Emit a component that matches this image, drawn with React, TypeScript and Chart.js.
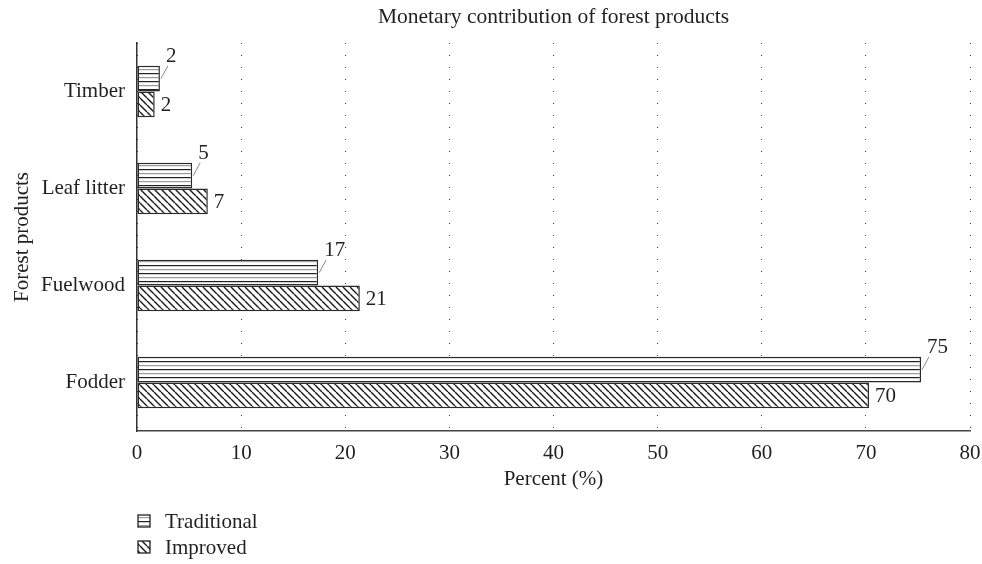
import React, { useEffect, useRef } from "react";
import { Chart, registerables } from "chart.js";

Chart.register(...registerables);

const categories = ["Timber", "Leaf litter", "Fuelwood", "Fodder"];
const traditionalValues = [2.2, 5.3, 17.4, 75.3];
const improvedValues = [1.7, 6.8, 21.4, 70.3];
const traditionalLabels = ["2", "5", "17", "75"];
const improvedLabels = ["2", "7", "21", "70"];
const seriesNames = ["Traditional", "Improved"];
const xTicksMax = 80;
const titleText = "Monetary contribution of forest products";
const xTitle = "Percent (%)";
const yTitle = "Forest products";

const FONT = "'Liberation Serif', 'Times New Roman', serif";
const TEXT = "#231f20";
const FS = 21;

function makeHorizontalPattern(ctx: CanvasRenderingContext2D) {
  const c = document.createElement("canvas");
  c.width = 8;
  c.height = 8;
  const g = c.getContext("2d")!;
  g.fillStyle = "#ffffff";
  g.fillRect(0, 0, 8, 8);
  g.fillStyle = "#222";
  g.fillRect(0, 1, 8, 1.2);
  g.fillStyle = "#9a9a9a";
  g.fillRect(0, 5, 8, 1.2);
  return ctx.createPattern(c, "repeat")!;
}

function makeDiagonalPattern(ctx: CanvasRenderingContext2D) {
  const s = 7;
  const c = document.createElement("canvas");
  c.width = s;
  c.height = s;
  const g = c.getContext("2d")!;
  g.fillStyle = "#ffffff";
  g.fillRect(0, 0, s, s);
  g.strokeStyle = "#1a1a1a";
  g.lineWidth = 1.4;
  g.beginPath();
  for (const x0 of [-s, 0, s]) {
    g.moveTo(x0, 0);
    g.lineTo(x0 + s, s);
  }
  g.stroke();
  return ctx.createPattern(c, "repeat")!;
}

export default function App() {
  const ref = useRef<HTMLCanvasElement>(null);

  useEffect(() => {
    document.body.style.margin = "0";
    const canvas = ref.current!;
    const ctx = canvas.getContext("2d")!;
    const hPat = makeHorizontalPattern(ctx);
    const dPat = makeDiagonalPattern(ctx);
    const patterns = [hPat, dPat];

    const overlay = {
      id: "overlay",
      afterDatasetsDraw(chart: any) {
        const c = chart.ctx as CanvasRenderingContext2D;
        c.save();
        c.font = `${FS}px ${FONT}`;
        c.fillStyle = TEXT;
        const m0 = chart.getDatasetMeta(0);
        m0.data.forEach((el: any, i: number) => {
          const top = el.y - el.height / 2;
          c.strokeStyle = "#8a8a8a";
          c.lineWidth = 1;
          c.beginPath();
          c.moveTo(el.x + 1, el.y);
          c.lineTo(el.x + 8, top);
          c.stroke();
          c.textAlign = "left";
          c.textBaseline = "alphabetic";
          c.fillText(traditionalLabels[i], el.x + 6, top - 4);
        });
        const m1 = chart.getDatasetMeta(1);
        m1.data.forEach((el: any, i: number) => {
          c.textAlign = "left";
          c.textBaseline = "middle";
          c.fillText(improvedLabels[i], el.x + 6, el.y + 1);
        });
        c.restore();
      },
      afterDraw(chart: any) {
        const c = chart.ctx as CanvasRenderingContext2D;
        const area = chart.chartArea;
        const cx = (area.left + area.right) / 2;
        c.save();
        c.fillStyle = TEXT;
        c.font = `21.5px ${FONT}`;
        c.textAlign = "center";
        c.textBaseline = "alphabetic";
        c.fillText(titleText, cx, 23);
        c.font = `${FS}px ${FONT}`;
        c.fillText(xTitle, cx, 485);
        c.save();
        c.translate(22, (area.top + area.bottom) / 2);
        c.rotate(-Math.PI / 2);
        c.textBaseline = "middle";
        c.fillText(yTitle, 0, 0);
        c.restore();
        const ys = [521, 547];
        seriesNames.forEach((name, i) => {
          const bx = 138;
          const by = ys[i] - 6;
          c.fillStyle = patterns[i];
          c.fillRect(bx, by, 12, 12);
          c.strokeStyle = "#222";
          c.lineWidth = 1.3;
          c.strokeRect(bx, by, 12, 12);
          c.fillStyle = TEXT;
          c.textAlign = "left";
          c.textBaseline = "middle";
          c.fillText(name, 165, ys[i] + 1);
        });
        c.restore();
      },
    };

    const chart = new Chart(ctx, {
      type: "bar",
      data: {
        labels: categories,
        datasets: [
          {
            label: seriesNames[0],
            data: traditionalValues,
            backgroundColor: hPat,
            borderColor: "#2a2a2a",
            borderWidth: 1.5,
            borderSkipped: false,
            barPercentage: 1,
            categoryPercentage: 0.53,
          },
          {
            label: seriesNames[1],
            data: improvedValues,
            backgroundColor: dPat,
            borderColor: "#2a2a2a",
            borderWidth: 1.5,
            borderSkipped: false,
            barPercentage: 1,
            categoryPercentage: 0.53,
          },
        ],
      },
      options: {
        indexAxis: "y",
        responsive: false,
        animation: false,
        devicePixelRatio: 1,
        layout: { padding: { left: 0, right: 0, top: 43, bottom: 73 } },
        plugins: {
          legend: { display: false },
          title: { display: false },
          tooltip: { enabled: false },
        },
        scales: {
          x: {
            min: 0,
            max: xTicksMax,
            ticks: {
              stepSize: 10,
              color: TEXT,
              font: { family: FONT, size: FS },
              padding: 10,
              maxRotation: 0,
            },
            grid: { color: "#3a3a3a", lineWidth: 1, drawTicks: false },
            border: { display: true, color: "#444", width: 1.5, dash: [1, 11] },
            afterFit: (s: any) => {
              s.height = 60;
              s.paddingRight = 12;
              s.paddingLeft = 0;
            },
          },
          y: {
            ticks: {
              color: TEXT,
              font: { family: FONT, size: FS },
              padding: 12,
            },
            grid: { display: false, drawTicks: false },
            border: { display: true, color: "#333", width: 1.5 },
            afterFit: (s: any) => {
              s.width = 137;
            },
          },
        },
      },
      plugins: [overlay],
    } as any);
    return () => chart.destroy();
  }, []);

  return (
    <div style={{ width: 982, height: 564, background: "#fff" }}>
      <canvas ref={ref} width={982} height={564} style={{ display: "block" }} />
    </div>
  );
}
